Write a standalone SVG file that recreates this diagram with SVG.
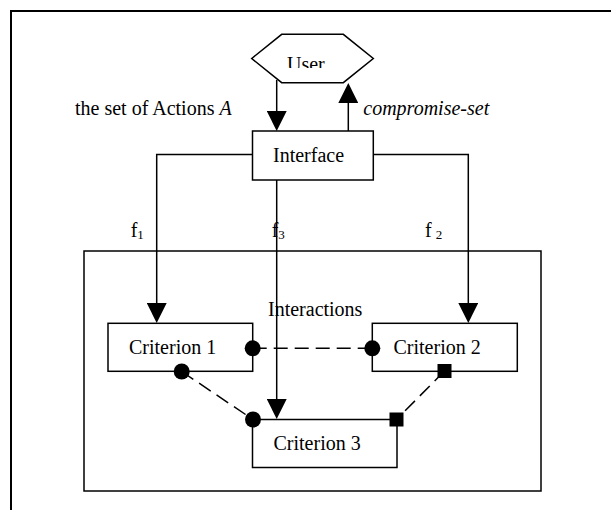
<svg xmlns="http://www.w3.org/2000/svg" width="611" height="510" viewBox="0 0 611 510">
  <style>
    .box { fill: #fff; stroke: #000; stroke-width: 1.5; }
    .frame { fill: none; stroke: #000; stroke-width: 2; }
    .t { font-family: "Liberation Serif", "Times New Roman", serif; font-size: 20px; fill: #000; }
    .it { font-style: italic; }
    .sub { font-size: 13px; }
    .conn { fill: none; stroke: #000; stroke-width: 1.5; }
    .dash { fill: none; stroke: #000; stroke-width: 1.5; stroke-dasharray: 14 7; }
    .end { fill: #000; stroke: none; }
  </style>
  <defs>
    <marker id="arrow" viewBox="0 0 20 20" markerWidth="20" markerHeight="20" markerUnits="userSpaceOnUse" refX="10" refY="10" orient="auto">
      <path d="M0,0 L20,10 L0,20 Z" fill="#000"/>
    </marker>
    <clipPath id="userClip">
      <rect x="240" y="0" width="150" height="68"/>
    </clipPath>
  </defs>

  <rect x="0" y="0" width="611" height="510" fill="#fff"/>
  <!-- outer frame (top and left edges visible) -->
  <path class="frame" d="M11,510 L11,11 L611,11"/>

  <!-- interactions container -->
  <g id="interactions">
    <rect class="box" x="84" y="251" width="457" height="240"/>
    <text class="t" x="268" y="316">Interactions</text>
  </g>

  <g id="user">
    <polygon class="box" points="251.7,58.5 281.7,34.3 343.3,34.3 373.3,58.5 343.3,82.7 281.7,82.7"/>
    <text class="t" x="287" y="70.5" clip-path="url(#userClip)">User</text>
  </g>

  <g id="interface">
    <rect class="box" x="252.5" y="131" width="120.8" height="49"/>
    <text class="t" x="273" y="162">Interface</text>
  </g>

  <g id="criterion1">
    <rect class="box" x="108" y="323.3" width="144.7" height="48"/>
    <text class="t" x="129" y="353.5">Criterion 1</text>
  </g>
  <g id="criterion2">
    <rect class="box" x="372.3" y="323.3" width="145" height="48"/>
    <text class="t" x="393.5" y="353.5">Criterion 2</text>
  </g>
  <g id="criterion3">
    <rect class="box" x="252.5" y="419.5" width="144.5" height="48"/>
    <text class="t" x="273.5" y="449.5">Criterion 3</text>
  </g>

  <g id="labels">
    <text class="t" x="75" y="114.5">the set of Actions <tspan class="it">A</tspan></text>
    <text class="t it" x="363.3" y="114.5">compromise-set</text>
    <text class="t" x="130.7" y="237">f<tspan class="sub" dy="2">1</tspan></text>
    <text class="t" x="271.7" y="237">f<tspan class="sub" dy="2">3</tspan></text>
    <text class="t" x="425" y="237">f<tspan class="sub" dx="4" dy="2">2</tspan></text>
  </g>

  <g id="connectors">
    <!-- User -> Interface -->
    <path class="conn" d="M276.7,80 L276.7,121" marker-end="url(#arrow)"/>
    <!-- Interface -> User -->
    <path class="conn" d="M348.3,131 L348.3,93" marker-end="url(#arrow)"/>
    <!-- f1 -->
    <path class="conn" d="M252.5,154.5 L156.7,154.5 L156.7,313" marker-end="url(#arrow)"/>
    <!-- f2 -->
    <path class="conn" d="M373.3,154.5 L468.3,154.5 L468.3,313" marker-end="url(#arrow)"/>
    <!-- f3 -->
    <path class="conn" d="M276.7,180 L276.7,409" marker-end="url(#arrow)"/>
    <!-- interactions -->
    <path class="dash" d="M252.7,348.3 L372.3,348.3"/>
    <path class="dash" d="M181.7,371.5 L253,419.5"/>
    <path class="dash" d="M444.5,371 L396.5,419.5"/>
    <circle class="end" cx="252.7" cy="348.3" r="8"/>
    <circle class="end" cx="372.3" cy="348.3" r="8"/>
    <circle class="end" cx="181.7" cy="371.5" r="8"/>
    <circle class="end" cx="253" cy="419.5" r="8"/>
    <rect class="end" x="437.5" y="364" width="14" height="14"/>
    <rect class="end" x="389.5" y="412.5" width="14" height="14"/>
  </g>
</svg>
